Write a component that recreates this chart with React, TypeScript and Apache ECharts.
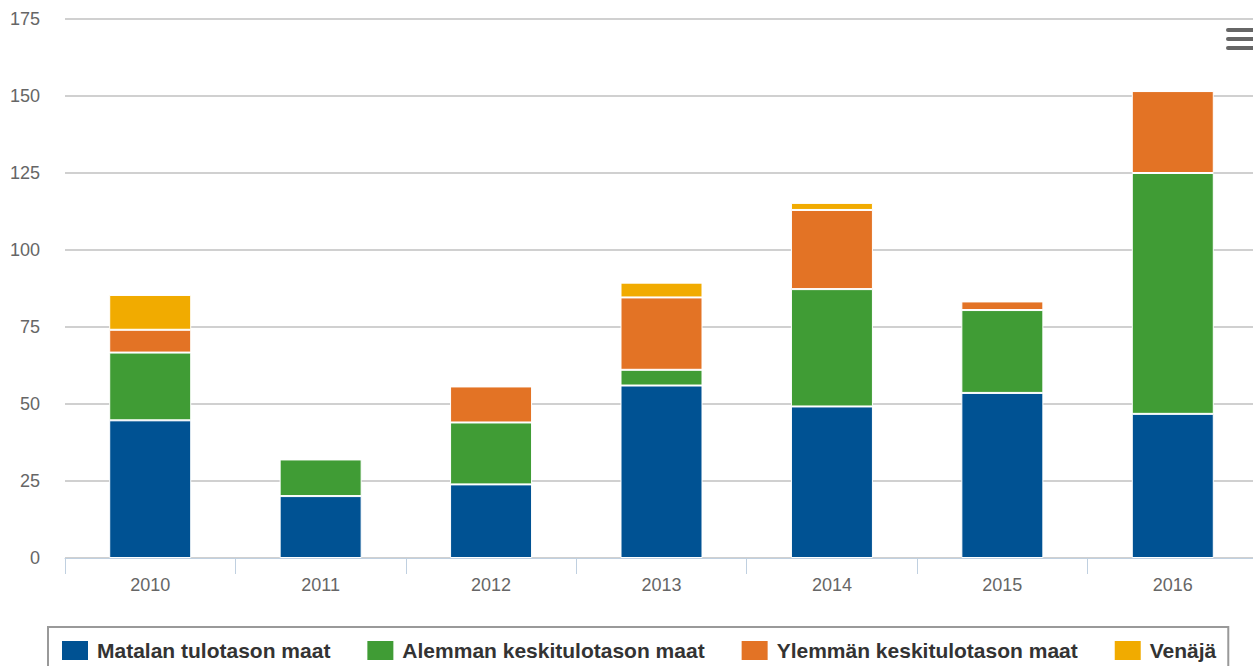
import React, { useEffect, useRef } from "react";
import * as echarts from "echarts";

const years = ["2010", "2011", "2012", "2013", "2014", "2015", "2016"];
const matalan = [44.7, 20.1, 23.9, 56.0, 49.2, 53.6, 46.8];
const alemman = [22.0, 11.9, 20.1, 5.1, 38.1, 26.9, 78.2];
const ylemman = [7.4, 0, 11.7, 23.5, 25.7, 2.8, 26.6];
const venaja = [11.3, 0, 0, 4.8, 2.3, 0, 0];

const seriesNames = [
  "Matalan tulotason maat",
  "Alemman keskitulotason maat",
  "Ylemmän keskitulotason maat",
  "Venäjä",
];
const colors = ["#005293", "#409C35", "#E37325", "#F1AB00"];

export default function App() {
  const ref = useRef<HTMLDivElement>(null);
  useEffect(() => {
    if (!ref.current) return;
    const chart = echarts.init(ref.current, null, { renderer: "svg" });
    const data = [matalan, alemman, ylemman, venaja];
    chart.setOption({
      animation: false,
      color: colors,
      grid: { left: 65, right: 2, top: 19, bottom: 108, containLabel: false },
      legend: {
        left: 48,
        top: 627,
        orient: "horizontal",
        itemWidth: 28,
        itemHeight: 21,
        itemGap: 35,
        padding: [12, 12, 12, 12],
        borderColor: "#999",
        borderWidth: 2,
        icon: "rect",
        data: seriesNames,
        textStyle: {
          fontFamily: "Liberation Sans, Arial, sans-serif",
          fontWeight: "bold",
          fontSize: 21,
          color: "#333",
          padding: [0, 0, 0, 3],
        },
      },
      xAxis: {
        type: "category",
        data: years,
        axisLine: { lineStyle: { color: "#C0D0E0", width: 1 } },
        axisTick: { show: true, length: 16, lineStyle: { color: "#C0D0E0" } },
        axisLabel: {
          color: "#666",
          fontSize: 18,
          fontFamily: "Liberation Sans, Arial, sans-serif",
          margin: 18,
        },
      },
      yAxis: {
        type: "value",
        min: 0,
        max: 175,
        interval: 25,
        axisLine: { show: false },
        axisTick: { show: false },
        splitLine: { lineStyle: { color: "#C0C0C0", width: 1.5 } },
        axisLabel: {
          color: "#666",
          fontSize: 18,
          fontFamily: "Liberation Sans, Arial, sans-serif",
          margin: 25,
        },
      },
      series: seriesNames.map((name, i) => ({
        name,
        type: "bar",
        stack: "total",
        barWidth: 82,
        data: data[i],
        itemStyle: { borderColor: "#fff", borderWidth: 1 },
      })),
      graphic: [
        { type: "rect", left: 1226, top: 28, shape: { width: 34, height: 4, r: 2 }, style: { fill: "#666" } },
        { type: "rect", left: 1226, top: 37, shape: { width: 34, height: 4, r: 2 }, style: { fill: "#666" } },
        { type: "rect", left: 1226, top: 46, shape: { width: 34, height: 4, r: 2 }, style: { fill: "#666" } },
      ],
    });
    return () => chart.dispose();
  }, []);
  return (
    <div
      style={{
        position: "fixed",
        left: 0,
        top: 0,
        width: 1253,
        height: 666,
        overflow: "hidden",
        background: "#fff",
      }}
    >
      <div ref={ref} style={{ width: 1260, height: 666 }} />
    </div>
  );
}
